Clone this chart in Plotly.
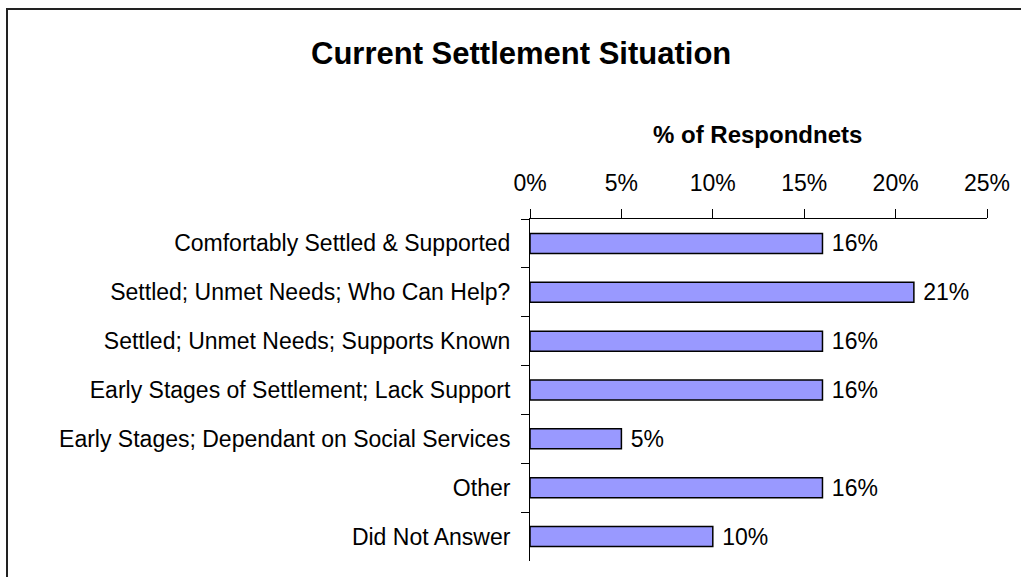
import plotly.graph_objects as go

# Survey categories (top to bottom) and share of respondents (%)
categories = [
    "Comfortably Settled & Supported",
    "Settled; Unmet Needs; Who Can Help?",
    "Settled; Unmet Needs; Supports Known",
    "Early Stages of Settlement; Lack Support",
    "Early Stages; Dependant on Social Services",
    "Other",
    "Did Not Answer",
]
values = [16, 21, 16, 16, 5, 16, 10]
tick_vals = [0, 5, 10, 15, 20, 25]

W, H = 1021, 577
L, R, T, B = 530, 987, 219, 561  # plot area in pixels

FONT = "Liberation Sans, Arial, sans-serif"

fig = go.Figure(
    go.Bar(
        x=values,
        y=categories,
        orientation="h",
        marker=dict(color="#9999FF", line=dict(color="#000000", width=1.5)),
        text=[f"{v}%" for v in values],
        texttemplate=" %{text}",
        textposition="outside",
        constraintext="none",
        textfont=dict(family=FONT, size=23, color="#000000"),
        cliponaxis=False,
    )
)

def px_to_paper_x(px):
    return (px - L) / (R - L)

def px_to_paper_y(py):
    return (B - py) / (B - T)

fig.update_layout(
    width=W,
    height=H,
    margin=dict(l=L, r=W - R, t=T, b=H - B),
    paper_bgcolor="white",
    plot_bgcolor="white",
    showlegend=False,
    bargap=0.59,
    font=dict(family=FONT, size=23, color="#000000"),
    xaxis=dict(
        side="top",
        range=[0, 25],
        tickvals=tick_vals,
        ticktext=[f"{v}%" for v in tick_vals],
        ticks="outside",
        ticklen=9,
        tickwidth=1,
        tickcolor="#000000",
        showline=True,
        linecolor="#000000",
        linewidth=1,
        showgrid=False,
        zeroline=False,
        tickfont=dict(family=FONT, size=23),
        ticklabelstandoff=9,
    ),
    yaxis=dict(
        type="category",
        categoryorder="array",
        categoryarray=categories,
        autorange="reversed",
        ticks="outside",
        tickson="boundaries",
        ticklen=8,
        tickwidth=1,
        tickcolor="#000000",
        showline=True,
        linecolor="#000000",
        linewidth=1,
        showgrid=False,
        tickfont=dict(family=FONT, size=23),
        ticklabelstandoff=14,
    ),
    annotations=[
        dict(
            text="<b>Current Settlement Situation</b>",
            xref="paper", yref="paper",
            x=px_to_paper_x(521), y=px_to_paper_y(53),
            xanchor="center", yanchor="middle",
            showarrow=False,
            font=dict(family=FONT, size=31, color="#000000"),
        ),
        dict(
            text="<b>% of Respondnets</b>",
            xref="paper", yref="paper",
            x=px_to_paper_x(757), y=px_to_paper_y(134),
            xanchor="center", yanchor="middle",
            showarrow=False,
            font=dict(family=FONT, size=24, color="#000000"),
        ),
    ],
    shapes=[
        dict(
            type="rect",
            xref="paper", yref="paper",
            x0=px_to_paper_x(7), x1=px_to_paper_x(W + 20),
            y0=px_to_paper_y(H + 20), y1=px_to_paper_y(9),
            line=dict(color="#222222", width=2),
            fillcolor="rgba(0,0,0,0)",
            layer="below",
        )
    ],
)

fig.write_html("out.html")
